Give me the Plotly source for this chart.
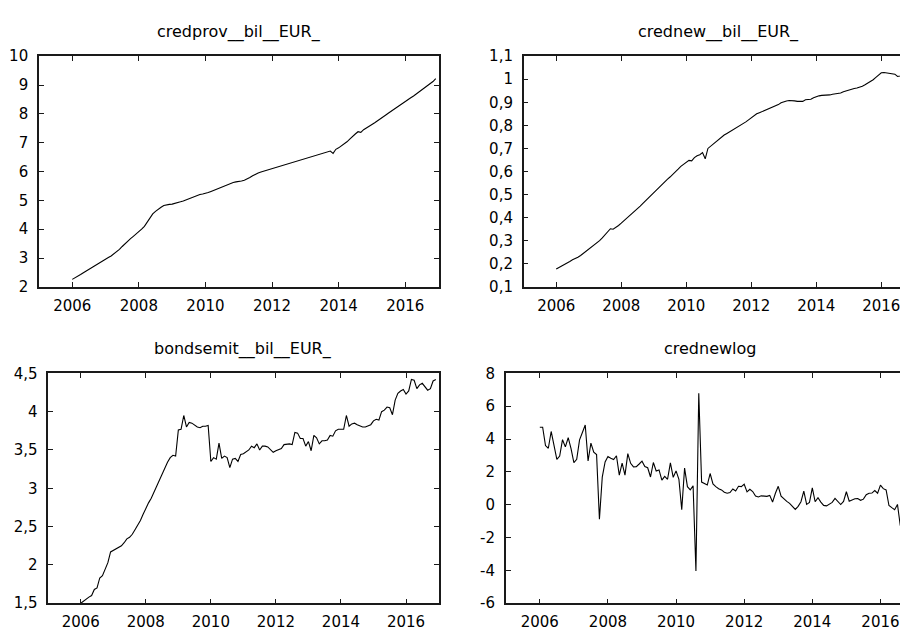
import plotly.graph_objects as go

W, H = 908, 637

# ---- data (monthly, 2006-01 .. 2016-12) ----
start_year = 2006
n_months = 132

credprov = [
    2.26, 2.31, 2.37, 2.43, 2.49, 2.55, 2.62, 2.68, 2.74, 2.80, 2.86, 2.92,
    2.97, 3.02, 3.07, 3.14, 3.22, 3.30, 3.40, 3.50, 3.58, 3.67, 3.75, 3.83,
    3.90, 4.00, 4.10, 4.25, 4.40, 4.53, 4.62, 4.70, 4.76, 4.82, 4.85, 4.86,
    4.87, 4.89, 4.92, 4.95, 4.98, 5.02, 5.06, 5.10, 5.14, 5.17, 5.20, 5.22,
    5.24, 5.27, 5.31, 5.35, 5.40, 5.44, 5.48, 5.52, 5.56, 5.59, 5.62, 5.64,
    5.65, 5.67, 5.70, 5.74, 5.79, 5.85, 5.91, 5.95, 5.98, 6.01, 6.04, 6.06,
    6.08, 6.11, 6.14, 6.17, 6.20, 6.23, 6.26, 6.30, 6.33, 6.36, 6.39, 6.42,
    6.44, 6.47, 6.50, 6.53, 6.56, 6.59, 6.62, 6.65, 6.68, 6.71, 6.63, 6.77,
    6.82, 6.88, 6.95, 7.03, 7.12, 7.22, 7.30, 7.38, 7.36, 7.45, 7.52, 7.58,
    7.63, 7.69, 7.75, 7.82, 7.89, 7.96, 8.03, 8.10, 8.17, 8.24, 8.31, 8.38,
    8.44, 8.50, 8.56, 8.62, 8.69, 8.76, 8.83, 8.89, 8.96, 9.03, 9.12, 9.22,
]

crednew = [
    0.177, 0.183, 0.190, 0.196, 0.203, 0.210, 0.217, 0.222, 0.228, 0.236, 0.245, 0.254,
    0.263, 0.270, 0.278, 0.288, 0.300, 0.312, 0.324, 0.336, 0.352, 0.350, 0.357, 0.366,
    0.376, 0.386, 0.397, 0.408, 0.418, 0.428, 0.438, 0.450, 0.462, 0.474, 0.486, 0.498,
    0.510, 0.522, 0.533, 0.544, 0.556, 0.566, 0.576, 0.586, 0.598, 0.610, 0.622, 0.632,
    0.642, 0.648, 0.646, 0.660, 0.668, 0.673, 0.682, 0.655, 0.700, 0.710, 0.718, 0.728,
    0.740, 0.750, 0.758, 0.765, 0.772, 0.779, 0.786, 0.792, 0.799, 0.807, 0.815, 0.824,
    0.833, 0.842, 0.850, 0.855, 0.860, 0.865, 0.870, 0.875, 0.880, 0.883, 0.890, 0.898,
    0.903, 0.906, 0.908, 0.908, 0.906, 0.904, 0.903, 0.904, 0.911, 0.912, 0.913, 0.920,
    0.925, 0.928, 0.930, 0.930, 0.930, 0.932, 0.935, 0.937, 0.937, 0.940, 0.946, 0.950,
    0.953, 0.956, 0.960, 0.962, 0.965, 0.970, 0.976, 0.983, 0.990, 0.998, 1.008, 1.018,
    1.028, 1.029, 1.027, 1.026, 1.024, 1.022, 1.012, 1.014, 1.018, 1.020, 1.022, 1.024,
]

bondsemit = [
    1.50, 1.53, 1.56, 1.58, 1.60, 1.68, 1.70, 1.83, 1.86, 1.95, 2.03, 2.17,
    2.19, 2.20, 2.23, 2.25, 2.29, 2.34, 2.36, 2.40, 2.46, 2.52, 2.58, 2.66,
    2.74, 2.81, 2.87, 2.95, 3.02, 3.12, 3.20, 3.27, 3.34, 3.40, 3.43, 3.42,
    3.76, 3.77, 3.95, 3.80, 3.86, 3.85, 3.82, 3.80, 3.79, 3.81, 3.81, 3.82,
    3.35, 3.40, 3.38, 3.59, 3.39, 3.42, 3.40, 3.27, 3.38, 3.39, 3.35, 3.44,
    3.45, 3.48, 3.50, 3.55, 3.53, 3.58, 3.50, 3.55, 3.55, 3.54, 3.50, 3.47,
    3.49, 3.50, 3.52, 3.57, 3.58, 3.58, 3.57, 3.73, 3.72, 3.65, 3.65, 3.55,
    3.61, 3.49, 3.69, 3.66, 3.58, 3.62, 3.62, 3.63, 3.69, 3.68, 3.75, 3.77,
    3.77, 3.77, 3.95, 3.81, 3.84, 3.85, 3.83, 3.81, 3.80, 3.80, 3.82, 3.83,
    3.88, 3.90, 3.89, 4.00, 4.02, 4.06, 4.05, 3.96, 4.15, 4.24, 4.27, 4.29,
    4.23, 4.27, 4.42, 4.41, 4.30, 4.35, 4.37, 4.33, 4.28, 4.30, 4.40, 4.42,
]

crednewlog = [
    4.72, 4.72, 3.60, 3.44, 4.46, 3.50, 2.76, 2.96, 3.96, 3.52, 4.08, 3.42,
    2.56, 2.77, 3.95, 4.40, 4.85, 2.66, 3.75, 3.20, 3.05, -0.89, 1.68, 2.60,
    2.93, 2.83, 2.75, 2.98, 1.80, 2.53, 1.80, 3.11, 2.52, 2.30, 2.32, 2.48,
    2.65, 2.33, 2.25, 1.69, 2.57, 2.05, 2.12, 1.50, 1.73, 1.55, 2.55, 1.67,
    2.06, 1.55, -0.30, 2.23, 1.10, 0.91, 1.15, -4.04, 6.79, 1.38, 1.30, 1.20,
    1.90, 1.27, 1.10, 0.97, 0.90, 0.76, 0.70, 0.74, 0.96, 0.84, 1.12, 1.10,
    1.25, 0.78, 0.94, 0.80, 0.53, 0.47, 0.54, 0.54, 0.51, 0.57, 0.16, 0.70,
    1.12, 0.52, 0.34, 0.20, 0.08, -0.12, -0.29, -0.10, 0.18, 0.83, 0.02, 0.14,
    1.03, 0.18, 0.43, 0.16, -0.04, -0.07, 0.03, 0.14, 0.38, 0.20, 0.01, 0.20,
    0.79, 0.21, 0.30, 0.36, 0.38, 0.27, 0.34, 0.61, 0.70, 0.71, 0.86, 0.70,
    1.19, 0.98, 0.90, -0.05, -0.18, -0.30, 0.02, -1.28, 0.30, 0.15, 0.20, 0.35,
]

titles = ["credprov__bil__EUR_", "crednew__bil__EUR_",
          "bondsemit__bil__EUR_", "crednewlog"]

x_tickvals = [2006, 2008, 2010, 2012, 2014, 2016]
x_ticktext = ["2006", "2008", "2010", "2012", "2014", "2016"]

y1_vals = [2, 3, 4, 5, 6, 7, 8, 9, 10]
y1_text = ["2", "3", "4", "5", "6", "7", "8", "9", "10"]
y2_vals = [0.1, 0.2, 0.3, 0.4, 0.5, 0.6, 0.7, 0.8, 0.9, 1.0, 1.1]
y2_text = ["0,1", "0,2", "0,3", "0,4", "0,5", "0,6", "0,7", "0,8", "0,9", "1", "1,1"]
y3_vals = [1.5, 2, 2.5, 3, 3.5, 4, 4.5]
y3_text = ["1,5", "2", "2,5", "3", "3,5", "4", "4,5"]
y4_vals = [-6, -4, -2, 0, 2, 4, 6, 8]
y4_text = ["-6", "-4", "-2", "0", "2", "4", "6", "8"]

t = [start_year + i / 12 for i in range(n_months)]

# ---- layout geometry (page pixels; the page body adds an 8px margin) ----
OFF = 8.0

def px_x(v):
    return (v - OFF) / W

def px_y(v):
    return 1 - (v - OFF) / H

panels = [
    (39.0, 439.0, 48.3, 285.7, [2005, 2017], [2, 10], y1_vals, y1_text),
    (524.3, 914.8, 48.3, 285.7, [2005, 2017], [0.1, 1.1], y2_vals, y2_text),
    (48.3, 439.0, 374.7, 611.3, [2005, 2017], [1.5, 4.5], y3_vals, y3_text),
    (506.3, 915.5, 374.7, 611.3, [2005, 2017], [-6, 8], y4_vals, y4_text),
]
title_centers = [(239.0, 23.5), (719.5, 23.5), (243.7, 349.5), (711.0, 349.5)]
series = [credprov, crednew, bondsemit, crednewlog]

font = dict(family="DejaVu Sans", size=15, color="#000000")
axis_color = "#1a1a1a"

fig = go.Figure()
layout = dict(
    width=W, height=H,
    margin=dict(l=0, r=0, t=0, b=0),
    paper_bgcolor="white", plot_bgcolor="white",
    showlegend=False, font=font,
)
annotations = []
for k, (x0, x1, yt, yb, xr, yr, yv, yt_text) in enumerate(panels):
    idx = "" if k == 0 else str(k + 1)
    fig.add_trace(go.Scatter(
        x=t, y=series[k], mode="lines",
        line=dict(color="#000000", width=1.1),
        xaxis="x" + idx, yaxis="y" + idx, hoverinfo="skip",
    ))
    layout["xaxis" + idx] = dict(
        domain=[px_x(x0), min(px_x(x1), 1.0)], range=xr, anchor="y" + idx,
        showgrid=False, zeroline=False,
        showline=True, linecolor=axis_color, linewidth=1.5,
        mirror="ticks", ticks="inside", ticklen=5, tickwidth=1,
        tickcolor=axis_color,
        tickvals=x_tickvals, ticktext=x_ticktext,
        tickfont=font, ticklabelstandoff=4,
    )
    layout["yaxis" + idx] = dict(
        domain=[px_y(yb), px_y(yt)], range=yr, anchor="x" + idx,
        showgrid=False, zeroline=False,
        showline=True, linecolor=axis_color, linewidth=1.5,
        mirror="ticks",
        ticks="inside", ticklen=5, tickwidth=1, tickcolor=axis_color,
        tickvals=yv, ticktext=yt_text,
        tickfont=font, ticklabelstandoff=6,
    )
    cx, cy = title_centers[k]
    annotations.append(dict(
        text=titles[k], x=px_x(cx), y=px_y(cy), xref="paper", yref="paper",
        xanchor="center", yanchor="middle", showarrow=False,
        font=dict(family="DejaVu Sans", size=16, color="#000000"),
    ))
layout["annotations"] = annotations
fig.update_layout(**layout)
fig.write_html("out.html")
